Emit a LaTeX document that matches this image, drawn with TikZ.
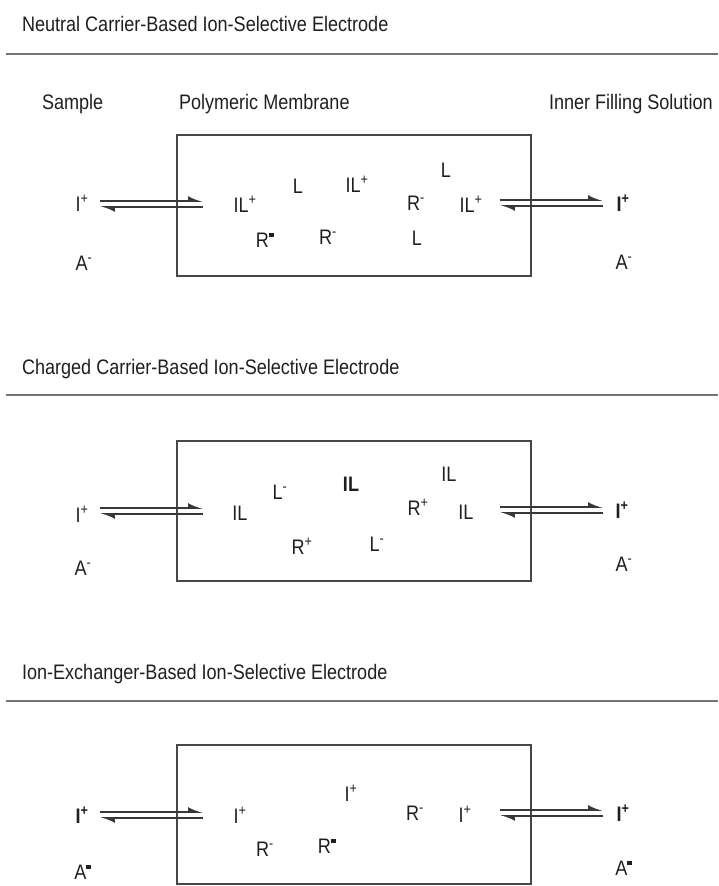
\documentclass[tikz,border=0pt]{standalone}
\usepackage{fontspec}
\setmainfont{Liberation Sans}[FakeStretch=0.86]
\usetikzlibrary{arrows.meta}

% charge marks used in the species labels
\newcommand\chp{\textsuperscript{+}}
\newcommand\chm{\textsuperscript{-}}
\newcommand\chsq{\textsuperscript{\rule[0.2em]{0.32em}{0.3em}}}

\tikzset{
  every node/.style={inner sep=0pt, outer sep=0pt, text=black!88},
  heading/.style={anchor=base west, font=\fontsize{21}{23}\selectfont},
  species/.style={anchor=center, font=\fontsize{21}{23}\selectfont,
                  text height=15pt, text depth=0pt},
  strong/.style={species, font=\fontsize{21}{23}\selectfont\bfseries},
  rulebar/.style={draw=black!55, line width=2.5pt},
  membrane/.style={draw=black!72, line width=1.5pt},
  fwd/.style={draw=black!78, line width=1.6pt,
              -{Latex[left,length=12pt,width=10pt]}},
  bwd/.style={draw=black!78, line width=1.6pt,
              -{Latex[left,length=12pt,width=10pt]}},
}

% equilibrium pair of harpoons: name, x start, x end, y of upper line
\newcommand\equil[4]{%
  \coordinate (#1-a) at (#2,#4);
  \coordinate (#1-b) at (#3,#4);
  \coordinate (#1-c) at (#3,{#4+6});
  \coordinate (#1-d) at (#2,{#4+6});
  \draw[fwd] (#1-a) -- (#1-b);
  \draw[bwd] (#1-c) -- (#1-d);
}

\begin{document}
\begin{tikzpicture}[x=1pt,y=-1pt]
\useasboundingbox (0,0) rectangle (718,886);

% ---------------- neutral carrier ----------------
\node[heading] (t1) at (22,31.5) {Neutral Carrier-Based Ion-Selective Electrode};
\coordinate (r1a) at (6,54);
\coordinate (r1b) at (718,54);
\draw[rulebar] (r1a) -- (r1b);
\node[heading] (hs) at (42,109) {Sample};
\node[heading] (hm) at (179,109) {Polymeric Membrane};
\node[heading] (hi) at (549,109) {Inner Filling Solution};

\node[membrane, draw, minimum width=354pt, minimum height=141pt, anchor=north west]
  (m1) at (177,135) {};

\node[species] (n1i) at (82,204) {I\chp};
\node[species] (n1a) at (84,263) {A\chm};
\equil{n1l}{100}{203}{201}
\node[species] (n1s1) at (245,205) {IL\chp};
\node[species] (n1s2) at (298,186) {L};
\node[species] (n1s3) at (357,185) {IL\chp};
\node[species] (n1s4) at (265,240) {R\chsq};
\node[species] (n1s5) at (328,237) {R\chm};
\node[species] (n1s6) at (446,170) {L};
\node[species] (n1s7) at (416,203) {R\chm};
\node[species] (n1s8) at (471,205) {IL\chp};
\node[species] (n1s9) at (417,238) {L};
\equil{n1r}{500}{603}{200}
\node[strong] (n1o) at (623,204) {I\chp};
\node[species] (n1b) at (624,262) {A\chm};

% ---------------- charged carrier ----------------
\node[heading] (t2) at (22,374.5) {Charged Carrier-Based Ion-Selective Electrode};
\coordinate (r2a) at (6,395);
\coordinate (r2b) at (718,395);
\draw[rulebar] (r2a) -- (r2b);

\node[membrane, draw, minimum width=354pt, minimum height=140pt, anchor=north west]
  (m2) at (177,441) {};

\node[species] (n2i) at (82,515) {I\chp};
\node[species] (n2a) at (83,568) {A\chm};
\equil{n2l}{100}{203}{508}
\node[species] (n2s1) at (240,513) {IL};
\node[species] (n2s2) at (280,492) {L\chm};
\node[strong] (n2s3) at (351,484) {IL};
\node[species] (n2s4) at (302,547) {R\chp};
\node[species] (n2s5) at (377,544) {L\chm};
\node[species] (n2s6) at (449,474) {IL};
\node[species] (n2s7) at (418,508) {R\chp};
\node[species] (n2s8) at (466,512) {IL};
\equil{n2r}{500}{603}{507}
\node[strong] (n2o) at (622,511) {I\chp};
\node[species] (n2b) at (624,564) {A\chm};

% ---------------- ion exchanger ----------------
\node[heading] (t3) at (22,679.5) {Ion-Exchanger-Based Ion-Selective Electrode};
\coordinate (r3a) at (6,701);
\coordinate (r3b) at (718,701);
\draw[rulebar] (r3a) -- (r3b);

\node[membrane, draw, minimum width=354pt, minimum height=139pt, anchor=north west]
  (m3) at (177,745) {};

\node[strong] (n3i) at (82,816) {I\chp};
\node[species] (n3a) at (83,872) {A\chsq};
\equil{n3l}{100}{203}{812}
\node[species] (n3s1) at (240,816) {I\chp};
\node[species] (n3s2) at (351,794) {I\chp};
\node[species] (n3s3) at (265,849) {R\chm};
\node[species] (n3s4) at (327,846) {R\chsq};
\node[species] (n3s5) at (415,813) {R\chm};
\node[species] (n3s6) at (465,815) {I\chp};
\equil{n3r}{500}{603}{810}
\node[strong] (n3o) at (623,814) {I\chp};
\node[species] (n3b) at (624,868) {A\chsq};
\end{tikzpicture}
\end{document}
